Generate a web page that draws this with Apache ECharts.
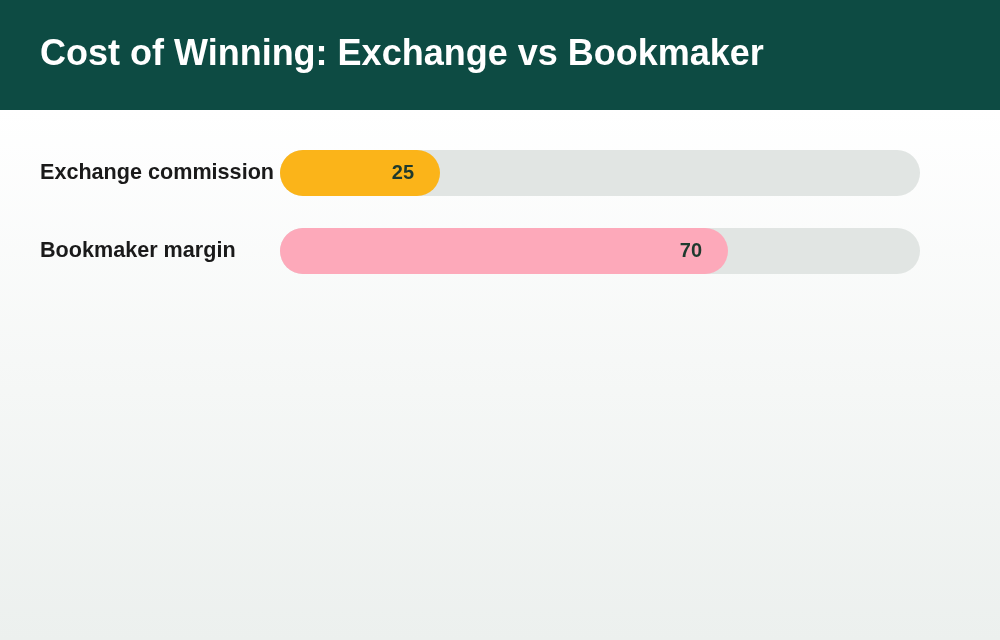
<!DOCTYPE html>
<html>
<head>
<meta charset="utf-8">
<script src="https://cdn.jsdelivr.net/npm/echarts@6/dist/echarts.min.js"></script>
<style>
html,body{margin:0;padding:0;}
#c{width:1000px;height:640px;background:linear-gradient(to bottom,#ffffff 110px,#ecf0ee 640px);}
</style>
</head>
<body>
<div id="c"></div>
<script>
const categories = ["Exchange commission", "Bookmaker margin"];
const values = [25, 70];
const barColors = ["#FBB419", "#FDA9BA"];
const maxValue = 100;

const chart = echarts.init(document.getElementById('c'), null, {renderer: 'canvas'});
chart.setOption({
  backgroundColor: 'transparent',
  graphic: [{
    type: 'rect', left: 0, top: 0, z: -1,
    shape: {width: 1000, height: 110},
    style: {fill: '#0D4B43'}
  }],
  title: {
    text: 'Cost of Winning: Exchange vs Bookmaker',
    left: 40, top: 37, padding: 0,
    textStyle: {color: '#ffffff', fontSize: 36, fontWeight: 'bold', fontFamily: 'Liberation Sans, Arial, sans-serif'}
  },
  grid: {left: 280, right: 80, top: 134, height: 156, containLabel: false},
  xAxis: {type: 'value', min: 0, max: maxValue, show: false},
  yAxis: {
    type: 'category', data: categories, inverse: true,
    axisLine: {show: false}, axisTick: {show: false}, splitLine: {show: false},
    axisLabel: {
      align: 'left', margin: 240, verticalAlign: 'middle', padding: [0,0,6,0],
      color: '#1a1a1a', fontSize: 21.6, fontWeight: 'bold',
      fontFamily: 'Liberation Sans, Arial, sans-serif'
    }
  },
  series: [{
    type: 'bar',
    data: values.map((v, i) => ({value: v, itemStyle: {color: barColors[i]}})),
    barWidth: 46,
    showBackground: true,
    backgroundStyle: {color: '#E1E5E3', borderRadius: 23},
    itemStyle: {borderRadius: 23},
    label: {
      show: true, position: 'insideRight', distance: 26,
      color: '#1f3a2e', fontSize: 20, fontWeight: 'bold',
      fontFamily: 'Liberation Sans, Arial, sans-serif'
    },
    animation: false
  }],
  animation: false
});
</script>
</body>
</html>
